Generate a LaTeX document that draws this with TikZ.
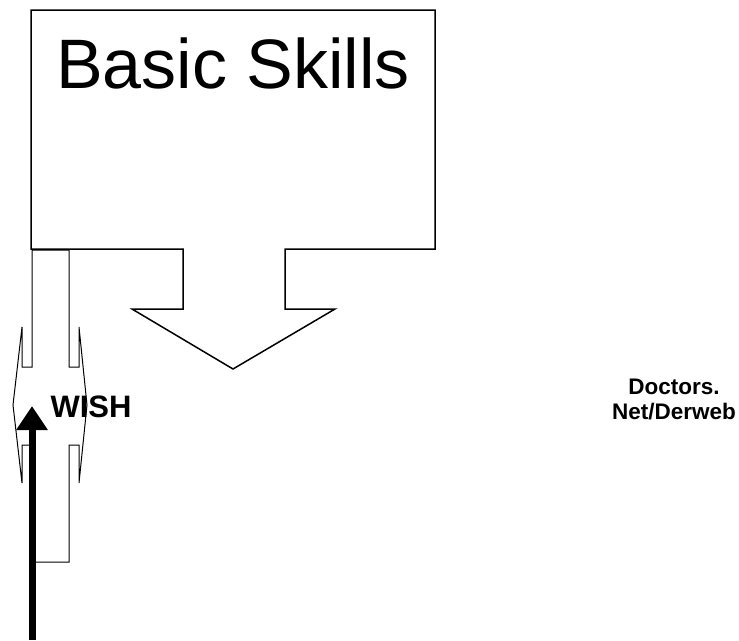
\documentclass[tikz,border=0pt]{standalone}
\usepackage{fontspec}
\setmainfont{Liberation Sans}
\usepackage{tikz}
\usetikzlibrary{arrows.meta,positioning}

\begin{document}
\begin{tikzpicture}[
  x=1pt, y=-1pt,
  >=Stealth,
  callout/.style={draw, line width=1.5pt, line join=miter},
  thincallout/.style={draw, line width=1pt, line join=miter},
  every node/.style={inner sep=0pt},
  arrow/.style={-{Triangle[length=24pt,width=30pt]}, line width=7pt}
]
\useasboundingbox (0,0) rectangle (739,640);

% Basic Skills down arrow callout
\draw[callout] (31,10) -- (435,10) -- (435,249) -- (285,249) -- (285,309)
  -- (335,309) -- (233,369) -- (132,309) -- (183,309) -- (183,249)
  -- (31,249) -- cycle;
\node (skills) [anchor=base] at (233,88)
  {\fontsize{70}{80}\selectfont Basic Skills};

% WISH left-right arrow callout
\draw[thincallout] (32,250) -- (32,367) -- (22,367) -- (22,327) -- (13,405)
  -- (22,483) -- (22,445) -- (32,445) -- (32,562) -- (69,562) -- (69,445)
  -- (79,445) -- (79,483) -- (87,405) -- (79,327) -- (79,367) -- (69,367)
  -- (69,250) -- cycle;
\node (wish) [anchor=base] at (91,417)
  {\fontsize{31}{36}\selectfont\bfseries WISH};

\node (doctors) [align=center, anchor=base,
  font=\fontsize{22.5}{25}\selectfont\bfseries] at (674,419)
  {Doctors.\\ Net/Derweb};

% Thick arrow into WISH
\coordinate (from) at (32,640);
\coordinate (into) at (32,406);
\draw[arrow] (from) -- (into);
\end{tikzpicture}
\end{document}
